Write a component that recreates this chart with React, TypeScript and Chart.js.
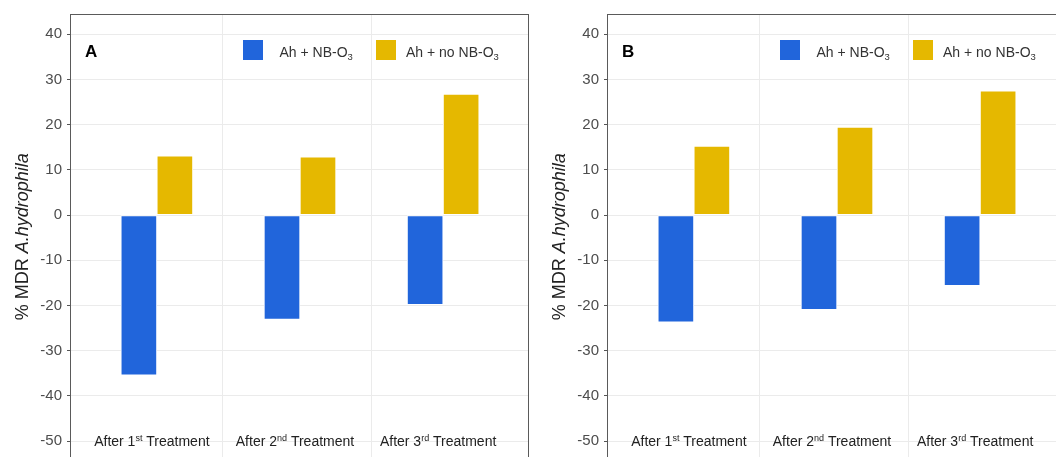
import React, { useEffect, useRef } from 'react';
import { Chart, registerables } from 'chart.js';

Chart.register(...registerables);

// ---- data ----
const categoryOrdinals = ['1', '2', '3'];
const categorySuffixes = ['st', 'nd', 'rd'];
const categoryPrefix = 'After ';
const categoryTail = ' Treatment';
const seriesLabels = ['Ah + NB-O', 'Ah + no NB-O'];
const seriesSubscript = '3';
const panelANb = [-35.4, -23.1, -19.8];
const panelANo = [13.1, 12.9, 26.8];
const panelBNb = [-23.7, -20.9, -15.6];
const panelBNo = [15.3, 19.5, 27.5];
const yTickValues = [-50, -40, -30, -20, -10, 0, 10, 20, 30, 40];
const separatorValues = [0.46, 1.5];
const yTitlePlain = '% MDR ';
const yTitleItalic = 'A.hydrophila';

const BLUE = '#2165DB';
const GOLD = '#E5B800';
const FONT = '"Liberation Sans", Arial, Helvetica, sans-serif';

type Seg = { t: string; font: string; dy?: number };

function richWidth(ctx: CanvasRenderingContext2D, segs: Seg[]) {
  let w = 0;
  for (const s of segs) {
    ctx.font = s.font;
    w += ctx.measureText(s.t).width;
  }
  return w;
}

function drawRich(ctx: CanvasRenderingContext2D, segs: Seg[], x: number, y: number, align: 'left' | 'center') {
  let cx = align === 'center' ? x - richWidth(ctx, segs) / 2 : x;
  ctx.textAlign = 'left';
  ctx.textBaseline = 'alphabetic';
  for (const s of segs) {
    ctx.font = s.font;
    ctx.fillText(s.t, cx, y + (s.dy || 0));
    cx += ctx.measureText(s.t).width;
  }
}

const decor = {
  id: 'decor',
  afterDraw(chart: any, _args: any, opts: any) {
    const { ctx, chartArea: ca, scales } = chart;
    const xs = scales.x;
    const ys = scales.y;
    ctx.save();

    // frame
    ctx.strokeStyle = '#5a5a5a';
    ctx.lineWidth = 1;
    ctx.strokeRect(Math.round(ca.left) - 0.5, Math.round(ca.top) + 0.5, Math.round(ca.right - ca.left), Math.round(ca.bottom - ca.top));

    // panel letter
    ctx.fillStyle = '#000';
    ctx.font = `bold 17px ${FONT}`;
    ctx.textAlign = 'left';
    ctx.textBaseline = 'alphabetic';
    ctx.fillText(opts.letter, ca.left + 14, ca.top + 43);

    // legend
    const colors = [BLUE, GOLD];
    const sqX = [172, 305];
    const txX = [208.5, 335];
    for (let i = 0; i < seriesLabels.length; i++) {
      ctx.fillStyle = colors[i];
      ctx.fillRect(ca.left + sqX[i], ca.top + 26, 20, 20);
      ctx.fillStyle = '#333';
      drawRich(ctx, [
        { t: seriesLabels[i], font: `14px ${FONT}` },
        { t: seriesSubscript, font: `9.5px ${FONT}`, dy: 3 },
      ], ca.left + txX[i], ca.top + 43, 'left');
    }

    // category labels
    ctx.fillStyle = '#222';
    const yl = ys.getPixelForValue(-50) + 5;
    for (let i = 0; i < categoryOrdinals.length; i++) {
      drawRich(ctx, [
        { t: categoryPrefix + categoryOrdinals[i], font: `14px ${FONT}` },
        { t: categorySuffixes[i], font: `9px ${FONT}`, dy: -5 },
        { t: categoryTail, font: `14px ${FONT}` },
      ], xs.getPixelForValue(i - 0.035), yl, 'center');
    }

    // y title
    ctx.translate(ca.left - 43.5, (ca.top + ca.bottom) / 2 - 1);
    ctx.rotate(-Math.PI / 2);
    ctx.fillStyle = '#222';
    drawRich(ctx, [
      { t: yTitlePlain, font: `18px ${FONT}` },
      { t: yTitleItalic, font: `italic 18px ${FONT}` },
    ], 0, 0, 'center');

    ctx.restore();
  },
};

const PLOT_W = 458;
const CANVAS_H = 480;
const PLOT_TOP = 14;
const PLOT_H = 447.4;

function Panel({ letter, nb, no, left, width, axisW }: { letter: string; nb: number[]; no: number[]; left: number; width: number; axisW: number }) {
  const ref = useRef<HTMLCanvasElement>(null);
  useEffect(() => {
    const chart = new Chart(ref.current!, {
      type: 'bar',
      data: {
        datasets: [
          {
            label: seriesLabels[0] + seriesSubscript,
            data: nb.map((v, i) => ({ x: i, y: v })),
            backgroundColor: BLUE,
            borderColor: '#ffffff',
            borderWidth: 1,
            borderSkipped: false,
            barThickness: 36,
          },
          {
            label: seriesLabels[1] + seriesSubscript,
            data: no.map((v, i) => ({ x: i, y: v })),
            backgroundColor: GOLD,
            borderColor: '#ffffff',
            borderWidth: 1,
            borderSkipped: false,
            barThickness: 36,
          },
        ],
      } as any,
      options: {
        responsive: false,
        animation: false,
        layout: { padding: { left: 0, top: PLOT_TOP, right: width - axisW - PLOT_W, bottom: CANVAS_H - PLOT_TOP - PLOT_H } },
        plugins: {
          legend: { display: false },
          tooltip: { enabled: false },
          decor: { letter },
        } as any,
        scales: {
          x: {
            type: 'linear',
            min: -0.6,
            max: 2.6,
            offset: false,
            afterBuildTicks: (s: any) => { s.ticks = separatorValues.map((v) => ({ value: v })); },
            afterFit: (s: any) => { s.height = 0; },
            ticks: { display: false },
            grid: { offset: false, color: '#ebebeb', drawTicks: false },
            border: { display: false },
          },
          y: {
            min: -54.5,
            max: 44.5,
            afterBuildTicks: (s: any) => { s.ticks = yTickValues.map((v) => ({ value: v })); },
            afterFit: (s: any) => { s.width = axisW; },
            ticks: { color: '#4d4d4d', font: { family: FONT, size: 15 }, padding: 5 },
            grid: { color: '#ebebeb', tickColor: '#555', tickLength: 4 },
            border: { display: false },
          },
        } as any,
      },
      plugins: [decor as any],
    });
    return () => chart.destroy();
  }, []);
  return (
    <canvas
      ref={ref}
      width={width}
      height={CANVAS_H}
      style={{ position: 'absolute', left, top: 0, width, height: CANVAS_H, display: 'block' }}
    />
  );
}

export default function App() {
  return (
    <div style={{ position: 'fixed', left: 0, top: 0, width: 1056, height: 457, overflow: 'hidden', background: '#fff' }}>
      <Panel letter="A" nb={panelANb} no={panelANo} left={0} width={532} axisW={71} />
      <Panel letter="B" nb={panelBNb} no={panelBNo} left={530} width={540} axisW={78} />
    </div>
  );
}
